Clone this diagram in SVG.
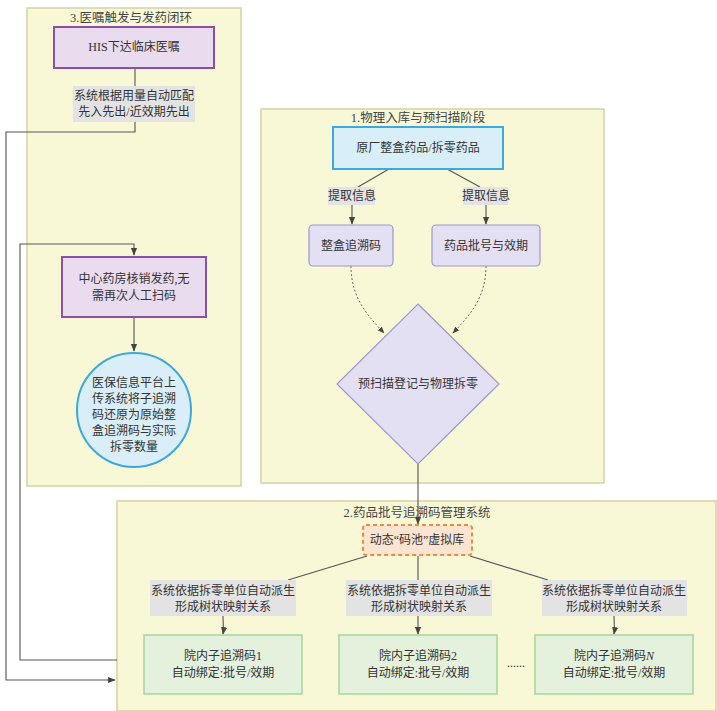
<svg xmlns="http://www.w3.org/2000/svg" width="717" height="711" viewBox="0 0 717 711">
<style>
text{font-family:"Liberation Serif","Noto Sans CJK SC",serif;font-size:12px;fill:#333;text-anchor:middle;dominant-baseline:central}
.panel{fill:#f9f8d6;stroke:#d3d2a4;stroke-width:1.5}
.ptitle{fill:#444;font-size:12.5px}
.purple{fill:#e9dcef;stroke:#8d4fa3;stroke-width:2}
.blue{fill:#d8eef8;stroke:#3ba9dd;stroke-width:2}
.lav{fill:#e3e0f3;stroke:#a095cc;stroke-width:1.2}
.green{fill:#e4f1dd;stroke:#a7d59a;stroke-width:1.5}
.lbl{fill:#e3e3e3}
.ln{fill:none;stroke:#555;stroke-width:1.1}
.dot{fill:none;stroke:#666;stroke-width:1;stroke-dasharray:2,2}
</style>
<defs>
<marker id="ah" viewBox="0 0 10 10" refX="9" refY="5" markerWidth="7" markerHeight="7" orient="auto-start-reverse">
<path d="M0,1 L10,5 L0,9 z" fill="#444"/>
</marker>
</defs>
<rect width="717" height="711" fill="#fff"/>

<g id="panel3">
<rect class="panel" x="27" y="8" width="214" height="478"/>
<text class="ptitle" x="131" y="18">3.医嘱触发与发药闭环</text>
</g>
<g id="panel1">
<rect class="panel" x="261" y="109" width="343" height="374"/>
<text class="ptitle" x="418" y="118">1.物理入库与预扫描阶段</text>
</g>
<g id="panel2">
<rect class="panel" x="117" y="501" width="599" height="210"/>
<text class="ptitle" x="417" y="513">2.药品批号追溯码管理系统</text>
</g>

<g id="connectors">
<path class="ln" d="M135,68 V87"/>
<path class="ln" d="M135,122 V132 H6 V680 H115" marker-end="url(#ah)"/>
<path class="ln" d="M117,660 H20 V244 H134 V255" marker-end="url(#ah)"/>
<path class="ln" d="M134,317 V351" marker-end="url(#ah)"/>
<path class="ln" d="M389,169 L358,187"/>
<path class="ln" d="M447,169 L480,187"/>
<path class="ln" d="M352,205 V224" marker-end="url(#ah)"/>
<path class="ln" d="M486,205 V224" marker-end="url(#ah)"/>
<path class="dot" d="M351,266 C351,298 368,316 384,333" marker-end="url(#ah)"/>
<path class="dot" d="M486,266 C486,298 469,316 453,333" marker-end="url(#ah)"/>
<path class="ln" d="M418,464 V524" marker-end="url(#ah)"/>
<path class="ln" d="M367,556 L288,580"/>
<path class="ln" d="M418,556 V580"/>
<path class="ln" d="M470,556 L548,580"/>
<path class="ln" d="M223,616 C223,624 224,628 223,634" marker-end="url(#ah)"/>
<path class="ln" d="M418,616 V634" marker-end="url(#ah)"/>
<path class="ln" d="M614,616 C614,624 615,628 614,634" marker-end="url(#ah)"/>
</g>

<g id="his">
<rect class="purple" x="54" y="27" width="160" height="41"/>
<text x="134" y="47" font-size="13">HIS下达临床医嘱</text>
</g>
<g id="label-match">
<rect class="lbl" x="73" y="86" width="122" height="36"/>
<text x="134" y="96">系统根据用量自动匹配</text>
<text x="134" y="112">先入先出/近效期先出</text>
</g>
<g id="pharmacy">
<rect class="purple" x="62" y="257" width="144" height="60"/>
<text x="134" y="279">中心药房核销发药,无</text>
<text x="134" y="296">需再次人工扫码</text>
</g>
<g id="insurance">
<circle cx="134" cy="410" r="57" fill="#d9eef8" stroke="#3ba9dd" stroke-width="2"/>
<text x="134" y="383">医保信息平台上</text>
<text x="134" y="399">传系统将子追溯</text>
<text x="134" y="415">码还原为原始整</text>
<text x="134" y="431">盒追溯码与实际</text>
<text x="134" y="447">拆零数量</text>
</g>

<g id="source">
<rect class="blue" x="333" y="127" width="170" height="42"/>
<text x="418" y="148" font-size="13">原厂整盒药品/拆零药品</text>
</g>
<g id="lbl-extract1">
<rect class="lbl" x="328" y="187" width="47" height="18"/>
<text x="352" y="196">提取信息</text>
</g>
<g id="lbl-extract2">
<rect class="lbl" x="463" y="187" width="45" height="18"/>
<text x="486" y="196">提取信息</text>
</g>
<g id="boxcode">
<rect class="lav" x="309" y="225" width="84" height="41" rx="4"/>
<text x="351" y="246" font-size="13">整盒追溯码</text>
</g>
<g id="batch">
<rect class="lav" x="432" y="225" width="108" height="41" rx="4"/>
<text x="486" y="246" font-size="13">药品批号与效期</text>
</g>
<g id="prescan">
<path class="lav" d="M418,304 L499,384 L418,464 L337,384 Z"/>
<text x="418" y="384" font-size="13">预扫描登记与物理拆零</text>
</g>

<g id="pool">
<rect x="363" y="525" width="109" height="30" rx="3" fill="#fbe4d0" stroke="#f08a3c" stroke-width="2" stroke-dasharray="4,3"/>
<text x="417" y="540" font-size="13">动态“码池”虚拟库</text>
</g>
<g id="lbl-derive1">
<rect class="lbl" x="150" y="580" width="146" height="36"/>
<text x="223" y="591">系统依据拆零单位自动派生</text>
<text x="223" y="607">形成树状映射关系</text>
</g>
<g id="lbl-derive2">
<rect class="lbl" x="346" y="580" width="146" height="36"/>
<text x="419" y="591">系统依据拆零单位自动派生</text>
<text x="419" y="607">形成树状映射关系</text>
</g>
<g id="lbl-derive3">
<rect class="lbl" x="542" y="580" width="145" height="36"/>
<text x="614" y="591">系统依据拆零单位自动派生</text>
<text x="614" y="607">形成树状映射关系</text>
</g>
<g id="sub1">
<rect class="green" x="144" y="635" width="158" height="59"/>
<text x="223" y="656" font-size="13">院内子追溯码1</text>
<text x="223" y="673" font-size="13">自动绑定:批号/效期</text>
</g>
<g id="sub2">
<rect class="green" x="339" y="635" width="158" height="59"/>
<text x="418" y="656" font-size="13">院内子追溯码2</text>
<text x="418" y="673" font-size="13">自动绑定:批号/效期</text>
</g>
<g id="ellipsis">
<text x="516" y="663">......</text>
</g>
<g id="subN">
<rect class="green" x="535" y="635" width="158" height="59"/>
<text x="614" y="656" font-size="13">院内子追溯码<tspan font-style="italic">N</tspan></text>
<text x="614" y="673" font-size="13">自动绑定:批号/效期</text>
</g>
</svg>
